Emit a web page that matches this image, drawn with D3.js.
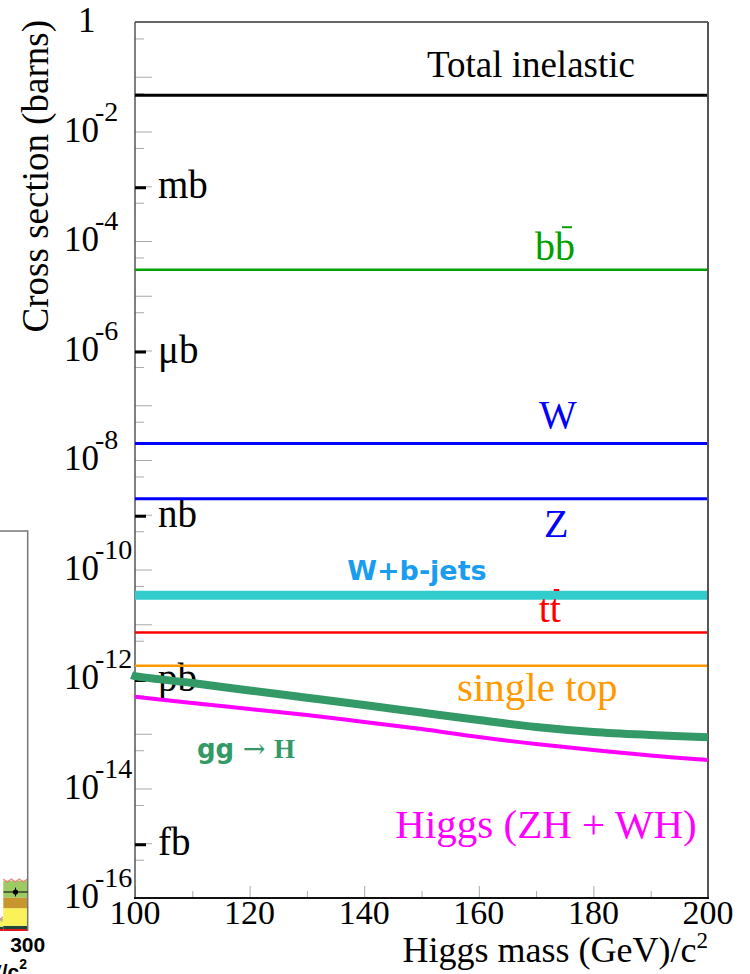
<!DOCTYPE html>
<html>
<head>
<meta charset="utf-8">
<script src="https://cdn.jsdelivr.net/npm/d3@7"></script>
<style>
  html, body { margin: 0; padding: 0; background: #fff; }
  svg { display: block; }
</style>
</head>
<body>
<script>
// ---- axis ranges and ticks ----
const massDomain = [100, 200];
const xsecDomain = [1e-16, 1];
const massMinorTicks = [110, 130, 150, 170, 190];
const massMajorTicks = [100, 120, 140, 160, 180, 200];
const decadeExponents = [-1, -2, -3, -4, -5, -6, -7, -8, -9, -10, -11, -12, -13, -14, -15];
const halfDecadeValues = [5e-1, 5e-2, 5e-3, 5e-4, 5e-5, 5e-6, 5e-7, 5e-8, 5e-9, 5e-10, 5e-11, 5e-12, 5e-13, 5e-14, 5e-15, 5e-16];
const labelExponents = [0, -2, -4, -6, -8, -10, -12, -14, -16];
const unitNames = ["mb", "\u03bcb", "nb", "pb", "fb"];
const unitValues = [1e-3, 1e-6, 1e-9, 1e-12, 1e-15];

// ---- mass-independent process cross sections (barns) ----
const processNames = ["Total inelastic", "bb", "W", "Z", "W+b-jets", "tt", "single top"];
const processXsec = [0.046, 3.0e-5, 2.0e-8, 1.96e-9, 3.4e-11, 7.1e-12, 1.75e-12];

// ---- Higgs production vs mass (barns) ----
const ggHMass = [99.4, 100, 110, 120, 130, 140, 150, 160, 170, 180, 190, 200];
const ggHXsec = [1.18e-12, 1.13e-12, 8.45e-13, 6.17e-13, 4.55e-13, 3.35e-13, 2.44e-13, 1.78e-13, 1.33e-13, 1.08e-13, 9.5e-14, 8.6e-14];
const vhMass = [100, 110, 120, 130, 140, 150, 160, 170, 180, 190, 200];
const vhXsec = [4.75e-13, 3.65e-13, 2.83e-13, 2.20e-13, 1.64e-13, 1.22e-13, 8.7e-14, 6.5e-14, 5.05e-14, 4.0e-14, 3.3e-14];

// ---- neighbouring histogram panel (last bins, events) ----
const insetBins = [260, 280];
const insetRed = [0.5, 0.5];
const insetDark = [0.6, 0.8];
const insetYellow = [1.3, 4.4];
const insetBrown = [0.2, 2.7];
const insetGreen = [0.5, 4.2];
const insetDataBin = [280];
const insetData = [9.75];
const insetDataErr = [1.1];

const W = 750, H = 974;
const plot = { left: 135, right: 708, top: 22, bottom: 898 };
const serif = "'Liberation Serif', 'Times New Roman', serif";
const sans = "'DejaVu Sans', sans-serif";

const svg = d3.select("body").append("svg")
  .attr("width", W).attr("height", H)
  .attr("viewBox", `0 0 ${W} ${H}`);
svg.append("rect").attr("width", W).attr("height", H).attr("fill", "#fff");

const x = d3.scaleLinear().domain(massDomain).range([plot.left, plot.right]);
const y = d3.scaleLog().domain(xsecDomain).range([plot.bottom, plot.top]);

// ================= neighbouring histogram panel =================
const ix = d3.scaleLinear().domain([280, 300]).range([3.3, 27.7]);
const iy = d3.scaleLinear().domain([0, 100]).range([931, 531]);
const inset = svg.append("g");
const layers = [
  { vals: insetRed, color: "#e8141c" },
  { vals: insetDark, color: "#1f4a3a" },
  { vals: insetYellow, color: "#fbf25a" },
  { vals: insetBrown, color: "#c8962e" },
  { vals: insetGreen, color: "#9ccb63" }
];
insetBins.forEach((b, i) => {
  let base = 0;
  layers.forEach(l => {
    const v = l.vals[i];
    inset.append("rect")
      .attr("x", ix(b)).attr("width", ix(b + 20) - ix(b))
      .attr("y", iy(base + v)).attr("height", iy(base) - iy(base + v))
      .attr("fill", l.color);
    base += v;
  });
  // uncertainty hatching on top of the stack
  const pts = d3.range(ix(b), ix(b + 20), 4).map((px, k) => [px, iy(base) + (k % 2 ? 1.5 : -1.5)]);
  inset.append("path").attr("d", d3.line()(pts))
    .attr("fill", "none").attr("stroke", "#f08080").attr("stroke-width", 1.2);
});
inset.append("path")
  .attr("d", `M0,${iy(100)}H${ix(300)}V${iy(0)}`)
  .attr("fill", "none").attr("stroke", "#777").attr("stroke-width", 1.5);
insetDataBin.forEach((b, i) => {
  const cx = ix(b + 10), cy = iy(insetData[i]);
  inset.append("line").attr("x1", ix(b)).attr("x2", ix(b + 20)).attr("y1", cy).attr("y2", cy).attr("stroke", "#000");
  inset.append("line").attr("x1", cx).attr("x2", cx).attr("y1", iy(insetData[i] - insetDataErr[i])).attr("y2", iy(insetData[i] + insetDataErr[i])).attr("stroke", "#000");
  inset.append("circle").attr("cx", cx).attr("cy", cy).attr("r", 2.6).attr("fill", "#000");
});
inset.append("text").attr("x", ix(300)).attr("y", 952)
  .attr("text-anchor", "middle").attr("font-family", "'Liberation Sans', Arial, sans-serif")
  .attr("font-weight", "bold").attr("font-size", 21).text("300");
const unitText = inset.append("text").attr("x", 27).attr("y", 979).attr("text-anchor", "end")
  .attr("font-family", "'Liberation Sans', Arial, sans-serif").attr("font-weight", "bold").attr("font-size", 21);
unitText.append("tspan").text("GeV/c");
unitText.append("tspan").attr("dy", -10).attr("font-size", 14).text("2");

// ================= main frame and axes =================
const axes = svg.append("g");

// decade and half-decade ticks on the cross-section axis
axes.append("g").attr("transform", `translate(${plot.left},0)`)
  .call(d3.axisRight(y).tickValues(decadeExponents.map(e => 10 ** e)).tickSize(17).tickFormat(""))
  .call(g => g.select(".domain").remove())
  .call(g => g.selectAll("line").attr("stroke", "#aaa").attr("stroke-width", 1));
axes.append("g").attr("transform", `translate(${plot.left},0)`)
  .call(d3.axisRight(y).tickValues(halfDecadeValues).tickSize(9).tickFormat(""))
  .call(g => g.select(".domain").remove())
  .call(g => g.selectAll("line").attr("stroke", "#aaa").attr("stroke-width", 1));

// mass axis ticks
axes.append("g").attr("transform", `translate(0,${plot.bottom})`)
  .call(d3.axisTop(x).tickValues(massMajorTicks).tickSize(12).tickFormat(""))
  .call(g => g.select(".domain").remove())
  .call(g => g.selectAll("line").attr("stroke", "#aaa").attr("stroke-width", 1));
axes.append("g").attr("transform", `translate(0,${plot.bottom})`)
  .call(d3.axisTop(x).tickValues(massMinorTicks).tickSize(7).tickFormat(""))
  .call(g => g.select(".domain").remove())
  .call(g => g.selectAll("line").attr("stroke", "#aaa").attr("stroke-width", 1));

// frame
axes.append("line").attr("x1", plot.left).attr("x2", plot.right).attr("y1", plot.top).attr("y2", plot.top)
  .attr("stroke", "#333").attr("stroke-width", 1.5);
axes.append("line").attr("x1", plot.right).attr("x2", plot.right).attr("y1", plot.top).attr("y2", plot.bottom)
  .attr("stroke", "#555").attr("stroke-width", 2);
axes.append("line").attr("x1", plot.left).attr("x2", plot.left).attr("y1", plot.top).attr("y2", plot.bottom)
  .attr("stroke", "#555").attr("stroke-width", 1.5);
axes.append("line").attr("x1", plot.left - 1).attr("x2", plot.right + 1).attr("y1", plot.bottom).attr("y2", plot.bottom)
  .attr("stroke", "#111").attr("stroke-width", 2.2);

// unit markers (mb, μb, ...)
unitValues.forEach((v, i) => {
  axes.append("line").attr("x1", plot.left).attr("x2", plot.left + 11)
    .attr("y1", y(v) + 1.5).attr("y2", y(v) + 1.5).attr("stroke", "#000").attr("stroke-width", 3);
  axes.append("text").attr("x", 158).attr("y", y(v) + 12)
    .attr("font-family", serif).attr("font-size", 39).text(unitNames[i]);
});

// cross-section tick labels
labelExponents.forEach(e => {
  const yy = y(10 ** e);
  const t = axes.append("text").attr("y", yy + 10).attr("font-family", serif).attr("font-size", 35);
  if (e === 0) {
    t.attr("x", 78).text("1");
  } else {
    t.attr("x", 64);
    t.append("tspan").text("10");
    t.append("tspan").attr("dx", -4).attr("dy", -21).attr("font-size", 28).text(String(e));
  }
});

// mass tick labels
massMajorTicks.forEach(m => {
  axes.append("text").attr("x", x(m)).attr("y", 924).attr("text-anchor", "middle")
    .attr("font-family", serif).attr("font-size", 34).text(m);
});

// axis titles
const xTitle = axes.append("text").attr("x", 708).attr("y", 962).attr("text-anchor", "end")
  .attr("font-family", serif).attr("font-size", 36);
xTitle.append("tspan").text("Higgs mass (GeV)/c");
xTitle.append("tspan").attr("dy", -14).attr("font-size", 23).text("2");

axes.append("text").attr("transform", "translate(48,20) rotate(-90)").attr("text-anchor", "end")
  .attr("font-family", serif).attr("font-size", 37).text("Cross section (barns)");

// ================= curves =================
const lines = svg.append("g");
const processStyle = [
  { color: "#000", width: 3 },
  { color: "#00a000", width: 2.5 },
  { color: "#0000ff", width: 3 },
  { color: "#0000ff", width: 3 },
  { color: "#33cccc", width: 9 },
  { color: "#ff0000", width: 2.5 },
  { color: "#ff9900", width: 2.5 }
];
processXsec.forEach((v, i) => {
  lines.append("path")
    .attr("d", d3.line()([[x(massDomain[0]), y(v)], [x(massDomain[1]) - 1, y(v)]]))
    .attr("stroke", processStyle[i].color).attr("stroke-width", processStyle[i].width).attr("fill", "none");
});

const curve = d3.line().x(d => x(d[0])).y(d => y(d[1])).curve(d3.curveCatmullRom);
lines.append("path").attr("d", curve(vhMass.map((m, i) => [m, vhXsec[i]])))
  .attr("stroke", "#ff00ff").attr("stroke-width", 4).attr("fill", "none");
lines.append("path").attr("d", curve(ggHMass.map((m, i) => [m, ggHXsec[i]])))
  .attr("stroke", "#339966").attr("stroke-width", 8).attr("fill", "none");

// ================= process labels =================
const labels = svg.append("g").attr("font-family", serif).attr("text-anchor", "middle");
const labelPlace = [
  { m: 169.1, dy: -18, color: "#000", size: 37 },
  { m: 173.3, dy: -10, color: "#00a000", size: 40, bar: true },
  { m: 173.8, dy: -16, color: "#0000ff", size: 40 },
  { m: 173.5, dy: 38, color: "#0000ff", size: 40 },
  { m: 149.2, dy: -15, color: "#1a9cf0", size: 27, bold: true },
  { m: 172.4, dy: -10, color: "#ff0000", size: 40, bar: true },
  { m: 170.2, dy: 35, color: "#ff9900", size: 41 }
];
processNames.forEach((name, i) => {
  const p = labelPlace[i];
  const t = labels.append("text").attr("x", x(p.m)).attr("y", y(processXsec[i]) + p.dy)
    .attr("fill", p.color).attr("font-size", p.size).text(name);
  if (p.bold) t.attr("font-family", sans).attr("font-weight", "bold");
  if (p.bar) {
    const ext = t.node().getExtentOfChar(1);
    const barY = ext.y + ext.height * 0.08;
    labels.append("line").attr("x1", ext.x + ext.width * 0.35).attr("x2", ext.x + ext.width * 0.85)
      .attr("y1", barY).attr("y2", barY).attr("stroke", p.color).attr("stroke-width", 2);
  }
});

const ggLabel = svg.append("text").attr("x", 197).attr("y", 758).attr("fill", "#339966");
ggLabel.append("tspan").attr("font-family", sans).attr("font-weight", "bold").attr("font-size", 26).text("gg");
ggLabel.append("tspan").attr("font-family", "'DejaVu Serif', serif").attr("font-size", 27).text(" \u2192 ");
ggLabel.append("tspan").attr("font-family", serif).attr("font-weight", "bold").attr("font-size", 27).text("H");

svg.append("text").attr("x", 546).attr("y", 838).attr("text-anchor", "middle")
  .attr("font-family", serif).attr("font-size", 41).attr("fill", "#ff00ff").text("Higgs (ZH + WH)");
</script>
</body>
</html>
